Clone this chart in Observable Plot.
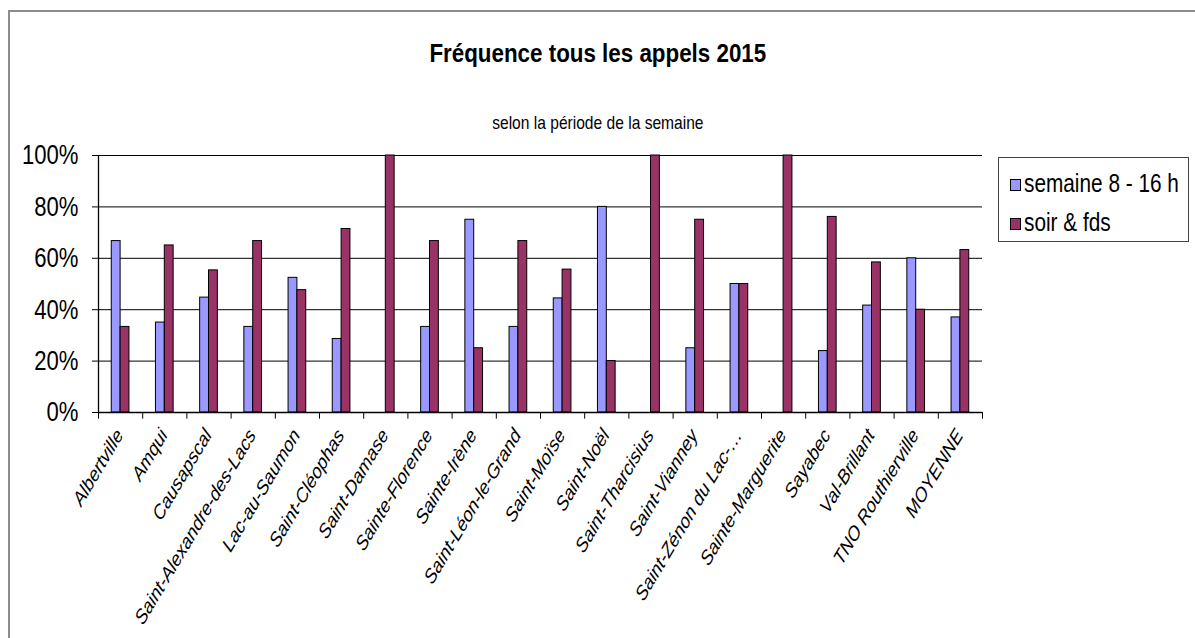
<!DOCTYPE html>
<html>
<head>
<meta charset="utf-8">
<script src="https://cdn.jsdelivr.net/npm/d3@7"></script>
<script src="https://cdn.jsdelivr.net/npm/@observablehq/plot@0.6"></script>
<style>
  html, body { margin: 0; padding: 0; background: #fff; }
  #wrap { position: relative; width: 1195px; height: 638px; overflow: hidden; background: #fff;
          font-family: "Liberation Sans", Arial, sans-serif; color: #000; }
  #border { position: absolute; left: 8px; top: 10px; width: 1300px; height: 700px;
            border-top: 2px solid #8c8c8c; border-left: 2px solid #8c8c8c; }
  .line { position: absolute; left: 0; width: 1195px; text-align: center; }
  .line span { display: inline-block; white-space: nowrap; transform-origin: 50% 50%; }
  #title { top: 38px; font-size: 26px; line-height: 30px; font-weight: bold; }
  #title span { transform: scaleX(0.86); }
  #subtitle { top: 112px; font-size: 19px; line-height: 22px; }
  #subtitle span { transform: scaleX(0.82); }
  #chart { position: absolute; left: 0; top: 140px; }
  #legend { position: absolute; left: 998px; top: 157px; width: 191px; height: 85px;
            border: 1px solid #444; box-sizing: border-box; }
  .lg-item { position: absolute; left: 11px; height: 30px; line-height: 30px; white-space: nowrap; }
  .lg-sw { display: inline-block; width: 9px; height: 10px; border: 1px solid #000; margin-right: 3px; vertical-align: 1px; }
  .lg-tx { display: inline-block; font-size: 26px; transform: scaleX(0.8); transform-origin: 0 50%; }
</style>
</head>
<body>
<div id="wrap">
  <div id="border"></div>
  <div id="title" class="line"><span></span></div>
  <div id="subtitle" class="line"><span></span></div>
  <div id="chart"></div>
  <div id="legend"></div>
</div>
<script>
const titleText = "Fréquence tous les appels 2015";
const subtitleText = "selon la période de la semaine";
const categories = ["Albertville", "Amqui", "Causapscal", "Saint-Alexandre-des-Lacs", "Lac-au-Saumon",
  "Saint-Cléophas", "Saint-Damase", "Sainte-Florence", "Sainte-Irène", "Saint-Léon-le-Grand",
  "Saint-Moïse", "Saint-Noël", "Saint-Tharcisius", "Saint-Vianney", "Saint-Zénon du Lac-…",
  "Sainte-Marguerite", "Sayabec", "Val-Brillant", "TNO Routhierville", "MOYENNE"];
const seriesNames = ["semaine 8 - 16 h", "soir & fds"];
const semaine = [0.667, 0.35, 0.447, 0.333, 0.524, 0.286, 0, 0.333, 0.75, 0.333,
  0.444, 0.80, 0, 0.25, 0.50, 0, 0.239, 0.416, 0.60, 0.37];
const soir = [0.333, 0.65, 0.553, 0.667, 0.476, 0.714, 1.0, 0.667, 0.25, 0.667,
  0.556, 0.20, 1.0, 0.75, 0.50, 1.0, 0.761, 0.584, 0.40, 0.632];
const yTicks = [0, 0.2, 0.4, 0.6, 0.8, 1.0];
const colors = ["#9999FF", "#993366"];

document.querySelector("#title span").textContent = titleText;
document.querySelector("#subtitle span").textContent = subtitleText;

const rows = categories.flatMap((c, i) => [
  {cat: c, series: seriesNames[0], value: semaine[i]},
  {cat: c, series: seriesNames[1], value: soir[i]}
]);

const W = 1195, H = 498, ML = 98, MR = 213, MT = 15, MB = 226;
const bw = (W - ML - MR) / categories.length;
const barW = bw * 0.2;
const outer = (bw - 2 * barW) / 2;
const FONT = '"Liberation Sans", Arial, sans-serif';

const chart = Plot.plot({
  width: W, height: H,
  marginLeft: ML, marginRight: MR, marginTop: MT, marginBottom: MB,
  style: {background: "transparent", color: "#000", fontFamily: FONT},
  x: {domain: categories, padding: 0, round: false, label: null},
  y: {domain: [0, 1], label: null},
  marks: [
    Plot.ruleY(yTicks.slice(1), {stroke: "#000", strokeWidth: 1}),
    Plot.barY(rows.filter(d => d.series === seriesNames[0]), {
      x: "cat", y: "value", fill: colors[0], stroke: "#000", strokeWidth: 1,
      insetLeft: outer, insetRight: outer + barW
    }),
    Plot.barY(rows.filter(d => d.series === seriesNames[1]), {
      x: "cat", y: "value", fill: colors[1], stroke: "#000", strokeWidth: 1,
      insetLeft: outer + barW, insetRight: outer
    }),
    Plot.ruleY([0], {stroke: "#000", strokeWidth: 1.3}),
    Plot.ruleX([categories[0]], {x: d => d, y1: () => 0, y2: () => 1, dx: -bw / 2, stroke: "#000", strokeWidth: 1.3}),
    Plot.ruleX(categories, {x: d => d, y1: () => 0, y2: () => -0.026, dx: -bw / 2, stroke: "#000", strokeWidth: 1}),
    Plot.ruleX([categories[categories.length - 1]], {x: d => d, y1: () => 0, y2: () => -0.026, dx: bw / 2, stroke: "#000", strokeWidth: 1}),
    Plot.axisY({ticks: yTicks, tickFormat: d3.format(".0%"), tickSize: 6, tickPadding: 14,
      fontSize: 28, fontFamily: FONT, label: null}),
    Plot.axisX({tickSize: 0, tickRotate: -54, tickPadding: 19, dx: -1,
      fontSize: 20.5, fontStyle: "italic", fontFamily: FONT, label: null})
  ]
});
document.getElementById("chart").appendChild(chart);

// condensed look of the original (horizontally compressed) rendering
function narrow(selector, k) {
  chart.querySelectorAll(selector).forEach(el => {
    const t = el.getAttribute("transform");
    if (t && t.includes("rotate")) {
      el.setAttribute("transform", t.replace("rotate", `scale(${k},1) rotate`));
    } else if (t) {
      el.setAttribute("transform", t + ` scale(${k},1)`);
    } else {
      const x = +(el.getAttribute("x") || 0);
      el.setAttribute("x", x / k);
      el.setAttribute("transform", `scale(${k},1)`);
    }
  });
}
narrow('g[aria-label="y-axis tick label"] text', 0.79);
narrow('g[aria-label="x-axis tick label"] text', 0.82);

const legend = document.getElementById("legend");
seriesNames.forEach((name, i) => {
  const item = document.createElement("div");
  item.className = "lg-item";
  item.style.top = (10 + i * 39) + "px";
  const sw = document.createElement("span");
  sw.className = "lg-sw";
  sw.style.background = colors[i];
  const tx = document.createElement("span");
  tx.className = "lg-tx";
  tx.textContent = name;
  item.appendChild(sw);
  item.appendChild(tx);
  legend.appendChild(item);
});
</script>
</body>
</html>
